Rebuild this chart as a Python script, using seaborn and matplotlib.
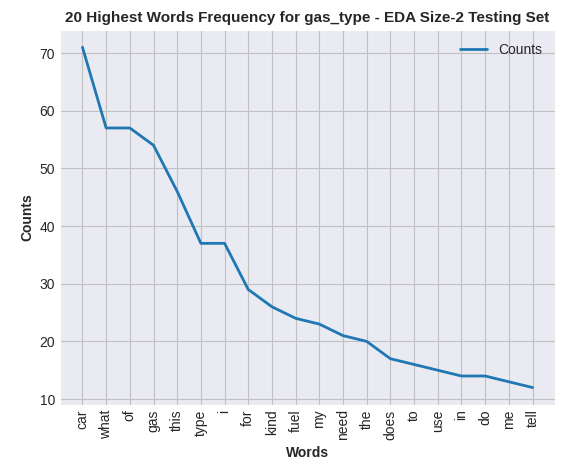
import matplotlib
matplotlib.use('Agg')
import matplotlib.pyplot as plt
import seaborn as sns
import pandas as pd

words = ['car', 'what', 'of', 'gas', 'this', 'type', 'i', 'for', 'kind', 'fuel',
         'my', 'need', 'the', 'does', 'to', 'use', 'in', 'do', 'me', 'tell']
counts = [71, 57, 57, 54, 46, 37, 37, 29, 26, 24, 23, 21, 20, 17, 16, 15, 14, 14, 13, 12]

sns.set_style('darkgrid', {'grid.color': '#c0c0c0', 'axes.facecolor': '#eaeaf2'})
plt.rcParams['font.family'] = ['Liberation Sans', 'DejaVu Sans']

df = pd.DataFrame({'Words': words, 'Counts': counts})

fig, ax = plt.subplots(figsize=(5.71, 4.65), dpi=100)
sns.lineplot(data=df, x='Words', y='Counts', ax=ax, color='#1f77b4', linewidth=2, label='Counts', sort=False)
ax.set_title('20 Highest Words Frequency for gas_type - EDA Size-2 Testing Set', fontweight='bold', fontsize=11)
ax.set_xlabel('Words', fontweight='bold')
ax.set_ylabel('Counts', fontweight='bold')
plt.xticks(rotation=90)
ax.tick_params(axis='both', colors='#262626', labelsize=10, length=0)
ax.legend(loc='upper right', frameon=False, fontsize=10)
fig.subplots_adjust(left=0.105, right=0.972, top=0.935, bottom=0.13)
fig.savefig('out.png', dpi=100)
